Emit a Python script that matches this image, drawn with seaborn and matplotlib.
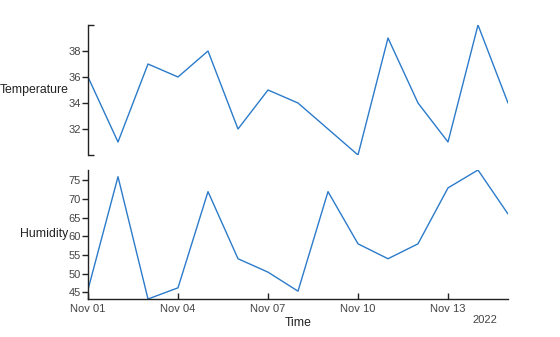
import matplotlib
matplotlib.use("Agg")
import matplotlib.pyplot as plt
import matplotlib.dates as mdates
import seaborn as sns
import pandas as pd
import numpy as np

dates = pd.date_range("2022-11-01", "2022-11-15", freq="D")
temperature = [36, 31, 37, 36, 38, 32, 35, 34, 32, 30, 39, 34, 31, 40, 34]
humidity = [45.7, 76, 43.2, 46.2, 72, 54, 50.4, 45.3, 72, 58, 54, 58, 73, 77.8, 66]
temp_ticks = [32, 34, 36, 38]
hum_ticks = [45, 50, 55, 60, 65, 70, 75]
x_ticks = ["2022-11-01", "2022-11-04", "2022-11-07", "2022-11-10", "2022-11-13"]

df = pd.DataFrame({"Time": dates, "Temperature": temperature, "Humidity": humidity})

sns.set_theme(style="white")
plt.rcParams["font.family"] = ["Liberation Sans", "DejaVu Sans"]

fig = plt.figure(figsize=(5.6, 3.37), dpi=100)
ax1 = fig.add_axes([88/560, 1-155/337, 420/560, 130/337])
ax2 = fig.add_axes([88/560, 1-299/337, 420/560, 129/337], sharex=ax1)

color = "#2b7bca"
text_color = "#444444"
sns.lineplot(data=df, x="Time", y="Temperature", ax=ax1, color=color, linewidth=1.0)
sns.lineplot(data=df, x="Time", y="Humidity", ax=ax2, color=color, linewidth=1.0)

for ax in (ax1, ax2):
    for s in ("top", "right"):
        ax.spines[s].set_visible(False)
    ax.spines["left"].set_color("#222222")
    ax.spines["left"].set_linewidth(1.0)
    ax.tick_params(axis="y", direction="out", length=4, width=1, color="#222222",
                   labelsize=8.0, labelcolor=text_color, pad=1, left=True)
    ax.set_xlim(dates[0], dates[-1])

ax1.spines["bottom"].set_visible(False)
ax1.set_ylim(min(temperature), max(temperature))
ax1.set_yticks(temp_ticks)
ax1.set_yticks([min(temperature), max(temperature)], minor=True)
ax1.tick_params(axis="y", which="minor", direction="in", length=4, width=1, color="#222222", left=True)
ax1.tick_params(axis="x", which="both", bottom=False, labelbottom=False)
ax1.set_xlabel("")

ax2.set_ylim(min(humidity), max(humidity))
ax2.set_yticks(hum_ticks)
ax2.spines["bottom"].set_color("#222222")
ax2.spines["bottom"].set_linewidth(1.0)
ax2.set_xticks(pd.to_datetime(x_ticks))
ax2.xaxis.set_major_formatter(mdates.DateFormatter("%b %d"))
ax2.tick_params(axis="x", direction="in", length=4, width=1, color="#222222",
                labelsize=8.0, labelcolor=text_color, pad=3.5, bottom=True)

for ax, lab in ((ax1, "Temperature"), (ax2, "Humidity")):
    ax.set_ylabel(lab, rotation=0, ha="right", va="center", fontsize=8.8, color="#222222")
    ax.yaxis.set_label_coords(-0.047, 0.5)

ax2.set_xlabel("Time", fontsize=8.8, color="#222222", labelpad=0)
ax2.xaxis.set_label_coords(0.5, -0.14)
ax2.annotate("2022", xy=(0.945, 0), xycoords="axes fraction", xytext=(0, -21),
             textcoords="offset pixels", ha="center", va="center", fontsize=8.0, color=text_color)

fig.savefig("out.png", dpi=100)
